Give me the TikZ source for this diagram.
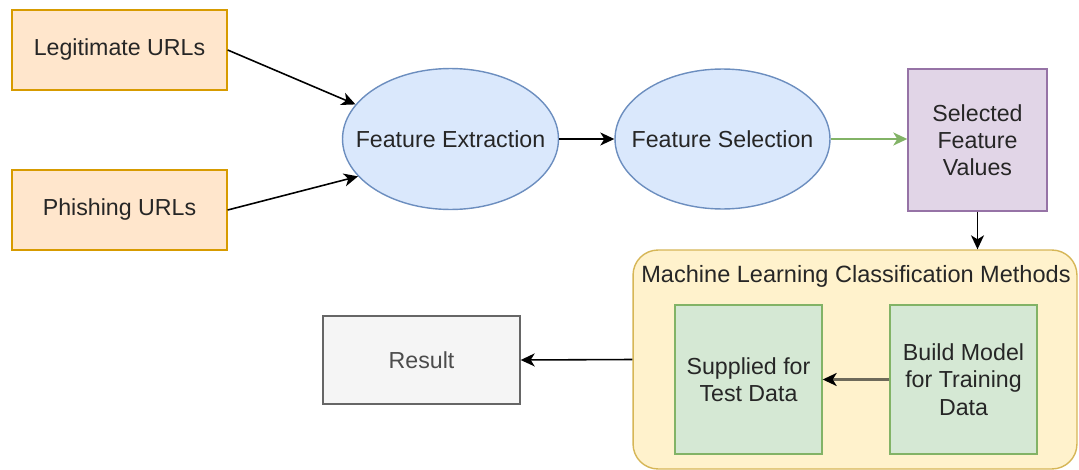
\documentclass[tikz,border=0pt]{standalone}
\usepackage{fontspec}
\setmainfont{Liberation Sans}
\usepackage{tikz}
\usetikzlibrary{positioning, shapes.geometric, arrows.meta}

\definecolor{srcfill}{HTML}{FFE6CC}
\definecolor{srcline}{HTML}{D79B00}
\definecolor{procfill}{HTML}{DAE8FC}
\definecolor{procline}{HTML}{6C8EBF}
\definecolor{valfill}{HTML}{E1D5E7}
\definecolor{valline}{HTML}{9673A6}
\definecolor{mlfill}{HTML}{FFF2CC}
\definecolor{mlline}{HTML}{D6B656}
\definecolor{modfill}{HTML}{D5E8D4}
\definecolor{modline}{HTML}{82B366}
\definecolor{resfill}{HTML}{F5F5F5}
\definecolor{resline}{HTML}{666666}
\definecolor{buildarrow}{HTML}{6E6A5A}

\tikzset{
    every node/.style={text=black!85},
    source/.style={draw=srcline, fill=srcfill, line width=0.8pt, minimum width=4.3cm, minimum height=1.6cm, font=\fontsize{13.2}{15}\selectfont},
    process/.style={ellipse, draw=procline, fill=procfill, line width=0.8pt, inner sep=0pt, font=\fontsize{13.2}{15}\selectfont},
    values/.style={draw=valline, fill=valfill, line width=0.8pt, minimum width=2.78cm, minimum height=2.84cm, align=center, font=\fontsize{13.2}{15.5}\selectfont},
    model/.style={draw=modline, fill=modfill, line width=0.8pt, minimum width=2.94cm, minimum height=2.98cm, align=center, font=\fontsize{13.2}{15.5}\selectfont},
    arr/.style={-{Stealth[length=2.8mm, width=2.6mm, inset=0.8mm]}, line width=0.9pt},
}

\begin{document}
\begin{tikzpicture}[x=0.02cm, y=-0.02cm]
        \useasboundingbox (0,0) rectangle (1079,470);

        % Create inputs
        \node[source] (legit) at (119.5,50) {Legitimate URLs};
        \node[source] (phish) at (119.5,210) {Phishing URLs};

        % Create processing steps
        \node[process, minimum width=4.32cm, minimum height=2.82cm] (extract) at (450.5,139) {\makebox[0pt]{Feature Extraction}};
        \node[process, minimum width=4.3cm, minimum height=2.8cm] (select) at (722.5,139) {\makebox[0pt]{Feature Selection}};
        \node[values] (selvalues) at (977.5,140) {Selected\\Feature\\Values};

        % Create classification block
        \node[draw=mlline, fill=mlfill, line width=0.8pt, rounded corners=0.5cm, minimum width=8.88cm, minimum height=4.38cm] (ml) at (855,359.5) {};
        \node[font=\fontsize{13.4}{15}\selectfont] (mltitle) at (856,276) {Machine Learning Classification Methods};
        \node[model] (test) at (748.5,379.5) {Supplied for\\Test Data};
        \node[model] (build) at (963.5,379.5) {Build Model\\for Training\\Data};

        \node[draw=resline, fill=resfill, text=black!70, line width=0.8pt, minimum width=3.94cm, minimum height=1.76cm, font=\fontsize{13.2}{15}\selectfont] (result) at (421.5,360) {Result};

        % Draw arrows
        \draw[arr] (legit.east) -- (extract.160);
        \draw[arr] (phish.east) -- (extract.202);
        \draw[arr] (extract.east) -- (select.west);
        \draw[arr, draw=modline, fill=modline, line width=1.1pt] (select.east) -- (select.east -| selvalues.west);
        \draw[arr] (selvalues.south) -- (selvalues.south |- ml.north);
        \draw[-{Stealth[length=2.8mm, width=2.6mm, inset=0.8mm, color=black]}, line width=1.4pt, draw=buildarrow] (build.west) -- (test.east);
        \draw[arr] (ml.west) -- (result.east);
    \end{tikzpicture}
\end{document}
